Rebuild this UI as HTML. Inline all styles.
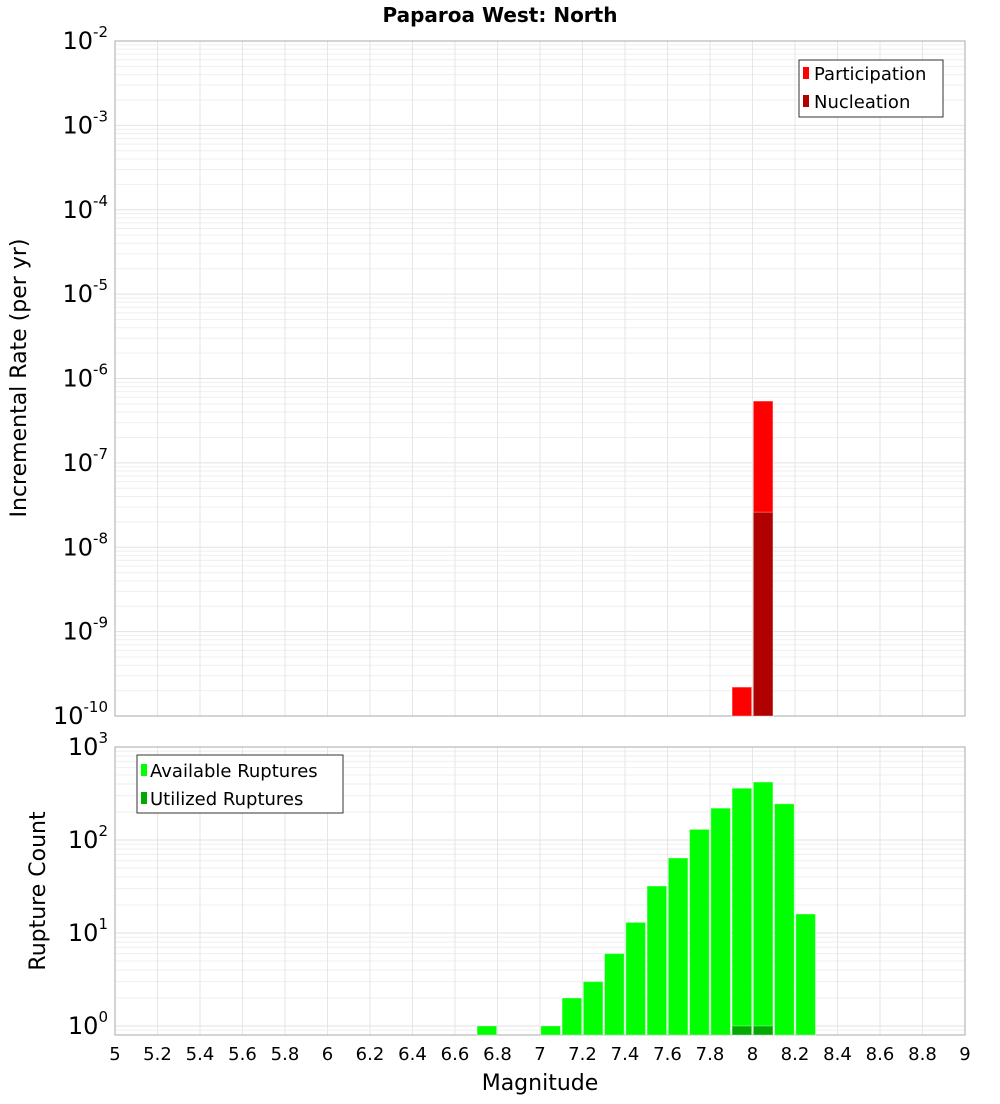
<!DOCTYPE html>
<html><head><meta charset="utf-8"><style>
body{margin:0;background:#fff;font-family:"DejaVu Sans","Liberation Sans",sans-serif}
svg text{font-family:"DejaVu Sans","Liberation Sans",sans-serif}
</style></head><body>
<svg id="c" width="1000" height="1100" xmlns="http://www.w3.org/2000/svg">
<text x="500" y="22" text-anchor="middle" font-size="20" font-weight="bold">Paparoa West: North</text>
<g id="top"></g>
<g id="bot"></g>
<text transform="translate(26,378) rotate(-90)" text-anchor="middle" font-size="22">Incremental Rate (per yr)</text>
<text transform="translate(45,891) rotate(-90)" text-anchor="middle" font-size="22">Rupture Count</text>
<text x="540" y="1090" text-anchor="middle" font-size="22">Magnitude</text>
<g>
<rect x="799" y="60" width="144" height="57" fill="#fff" stroke="#333"/>
<rect x="803" y="67" width="6" height="12" fill="#ff0000"/>
<text x="814" y="80" font-size="18">Participation</text>
<rect x="803" y="95" width="6" height="12" fill="#b00000"/>
<text x="814" y="108" font-size="18">Nucleation</text>
</g>
<g>
<rect x="137" y="755" width="206" height="58" fill="#fff" stroke="#333"/>
<rect x="141" y="764" width="6" height="12" fill="#00ff00"/>
<text x="150" y="777" font-size="18">Available Ruptures</text>
<rect x="141" y="792" width="6" height="12" fill="#00aa00"/>
<text x="150" y="805" font-size="18">Utilized Ruptures</text>
</g>
</svg>
<script>
const partMags=[7.95,8.05];
const partVals=[2.2e-10,5.4e-7];
const nuclMags=[8.05];
const nuclVals=[2.6e-8];
const availMags=[6.75,7.05,7.15,7.25,7.35,7.45,7.55,7.65,7.75,7.85,7.95,8.05,8.15,8.25];
const availVals=[1,1,2,3,6,13,32,64,130,220,360,420,245,16];
const utilMags=[7.95,8.05];
const utilVals=[1,1];
const xTicks=["5","5.2","5.4","5.6","5.8","6","6.2","6.4","6.6","6.8","7","7.2","7.4","7.6","7.8","8","8.2","8.4","8.6","8.8","9"];
const topExps=[-2,-3,-4,-5,-6,-7,-8,-9,-10];
const botExps=[3,2,1,0];
const NS="http://www.w3.org/2000/svg";
const X0=115,X1=965;
const xs=m=>X0+(m-5)/4*(X1-X0);
const T={top:41,bot:716,lmax:-2,lmin:-10};
const B={top:747,bot:1035,lmax:3,lmin:Math.log10(0.8)};
function ys(P,v){return P.top+(P.lmax-Math.log10(v))/(P.lmax-P.lmin)*(P.bot-P.top);}
function mk(g,tag,at){const e=document.createElementNS(NS,tag);for(const k in at)e.setAttribute(k,at[k]);g.appendChild(e);return e;}
function frame(g,P,exps,nm){
  for(let d=Math.floor(P.lmin);d<P.lmax;d++)for(let k=1;k<10;k++){const v=k*Math.pow(10,d);const y=ys(P,v);if(y<P.top||y>P.bot)continue;
    const l=mk(g,'line',{x1:X0,x2:X1,y1:y,y2:y,stroke:k==1?'#e2e2e2':'#efefef','stroke-width':1});
    }
  xTicks.forEach(t=>{const x=xs(+t);const l=mk(g,'line',{x1:x,x2:x,y1:P.top,y2:P.bot,stroke:'#e6e6e6'});
    });
  const r=mk(g,'rect',{x:X0,y:P.top,width:X1-X0,height:P.bot-P.top,fill:'none',stroke:'#aaa'});
  
  exps.forEach(e=>{const y=ys(P,Math.pow(10,e));const t=mk(g,'text',{x:108,y:y+8,'text-anchor':'end','font-size':24});
    
    t.textContent='10';const s=document.createElementNS(NS,'tspan');s.setAttribute('dy','-12');s.setAttribute('font-size','15');s.textContent=String(e);t.appendChild(s);});
}
function bars(g,P,mags,vals,col,nm){mags.forEach((m,i)=>{const x=xs(m);const y=Math.max(P.top,ys(P,vals[i]));
  const r=mk(g,'rect',{x:x-9.8,y:y,width:19.6,height:P.bot-y,fill:col,stroke:'rgba(255,255,255,0.35)'});
  });}
const gt=document.getElementById('top'),gb=document.getElementById('bot');
frame(gt,T,topExps,'rate');frame(gb,B,botExps,'count');
bars(gt,T,partMags,partVals,'#ff0000','participation-bar');
bars(gt,T,nuclMags,nuclVals,'#b00000','nucleation-bar');
bars(gb,B,availMags,availVals,'#00ff00','available-bar');
bars(gb,B,utilMags,utilVals,'#00aa00','utilized-bar');
xTicks.forEach(t=>{const e=mk(gb,'text',{x:xs(+t),y:1060,'text-anchor':'middle','font-size':18});
  e.textContent=t;});
</script>
</body></html>
